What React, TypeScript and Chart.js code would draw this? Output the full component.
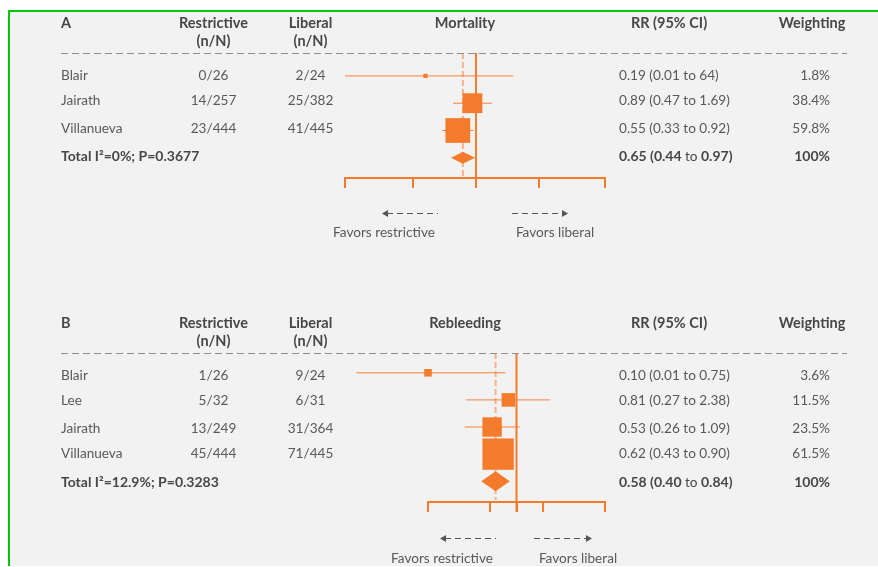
import React, { useEffect, useRef } from 'react';
import { Chart, registerables } from 'chart.js';

Chart.register(...registerables);

// ---------- Panel A: Mortality ----------
const studiesA = ['Blair', 'Jairath', 'Villanueva'];
const restrictiveA = ['0/26', '14/257', '23/444'];
const liberalA = ['2/24', '25/382', '41/445'];
const rrA = [0.19, 0.89, 0.55];
const ciLowA = [0.01, 0.47, 0.33];
const ciHighA = [3.4, 1.69, 0.92]; // upper ends as drawn in the figure
const rrLabelsA = ['0.19 (0.01 to 64)', '0.89 (0.47 to 1.69)', '0.55 (0.33 to 0.92)'];
const weightsA = [1.8, 38.4, 59.8];
const pooledA = [0.65, 0.44, 0.97]; // RR, low, high
const totalLabelA = 'Total I\u00B2=0%; P=0.3677';
const axisTicksA = [0.0134, 0.125, 1, 8, 70];

// ---------- Panel B: Rebleeding ----------
const studiesB = ['Blair', 'Lee', 'Jairath', 'Villanueva'];
const restrictiveB = ['1/26', '5/32', '13/249', '45/444'];
const liberalB = ['9/24', '6/31', '31/364', '71/445'];
const rrB = [0.1, 0.81, 0.53, 0.62];
const ciLowB = [0.0155, 0.27, 0.26, 0.43]; // Blair lower end as drawn
const ciHighB = [0.75, 2.38, 1.09, 0.9];
const rrLabelsB = ['0.10 (0.01 to 0.75)', '0.81 (0.27 to 2.38)', '0.53 (0.26 to 1.09)', '0.62 (0.43 to 0.90)'];
const weightsB = [3.6, 11.5, 23.5, 61.5];
const pooledB = [0.58, 0.4, 0.84];
const totalLabelB = 'Total I\u00B2=12.9%; P=0.3283';
const axisTicksB = [0.1, 0.5, 1, 2, 10];

// ---------- styling / layout ----------
const ORANGE = '#F47B2B';
const CI_COLOR = '#F4823A';
const POOL_COLOR = '#F8B28A';
const TEXT = '#595959';
const HEAD = '#474747';
const FONT = 'Lato, "Open Sans", sans-serif';
const SIZE_BODY = 13.6;
const SIZE_TOTAL = 14;
const SIZE_HEAD = 14.5;
const TEXT_DY = 1.5;
const CANVAS_W = 868;
const OFFSET_X = 10;

const layoutA = {
  canvasTop: 12, height: 278,
  areaLeft: 345, areaRight: 605, areaTop: 53, areaBottom: 178,
  rowY0: 75.9, rowStep: 27.3,
  headY1: 22, headY2: 40, sepY: 53,
  textY: [74, 99, 127, 155],
  arrowY: 213, favorsY: 231,
  leftArrow: [382, 438], rightArrow: [512, 568], leftTextX: 384, rightTextX: 555,
  sizeK: 3.2, diamondH: 12, clipCI: true,
};
const layoutB = {
  canvasTop: 290, height: 276,
  areaLeft: 428, areaRight: 605, areaTop: 353, areaBottom: 502,
  rowY0: 372.8, rowStep: 27.1,
  headY1: 322, headY2: 340, sepY: 353,
  textY: [374, 399, 427, 452, 481],
  arrowY: 538, favorsY: 557,
  leftArrow: [440, 496], rightArrow: [534, 592], leftTextX: 442, rightTextX: 578,
  sizeK: 4.0, diamondH: 20, clipCI: false,
};

const panels = [
  { letter: 'A', outcome: 'Mortality', studies: studiesA, restrictive: restrictiveA, liberal: liberalA,
    rr: rrA, low: ciLowA, high: ciHighA, rrLabels: rrLabelsA, weights: weightsA, pooled: pooledA,
    totalLabel: totalLabelA, ticks: axisTicksA, L: layoutA },
  { letter: 'B', outcome: 'Rebleeding', studies: studiesB, restrictive: restrictiveB, liberal: liberalB,
    rr: rrB, low: ciLowB, high: ciHighB, rrLabels: rrLabelsB, weights: weightsB, pooled: pooledB,
    totalLabel: totalLabelB, ticks: axisTicksB, L: layoutB },
];

const fmt = (v: number) => v.toFixed(2);

function makePlugin(p: any) {
  const L = p.L;
  const X = (px: number) => px - OFFSET_X;
  const Y = (py: number) => py - L.canvasTop;
  const text = (ctx: CanvasRenderingContext2D, s: string, x: number, y: number, align: CanvasTextAlign, bold: boolean, color: string, size: number) => {
    ctx.font = `${bold ? 'bold ' : ''}${size}px ${FONT}`;
    ctx.fillStyle = color;
    ctx.textAlign = align;
    ctx.textBaseline = 'middle';
    ctx.fillText(s, X(x), Y(y) + TEXT_DY);
  };
  return {
    id: 'forest' + p.letter,
    beforeDatasetsDraw(chart: any) {
      const ctx = chart.ctx;
      const xs = chart.scales.x;
      const a = chart.chartArea;
      ctx.save();
      const xp = xs.getPixelForValue(p.pooled[0]);
      ctx.strokeStyle = POOL_COLOR;
      ctx.lineWidth = 2;
      ctx.setLineDash([6, 3]);
      ctx.beginPath();
      ctx.moveTo(xp, a.top);
      ctx.lineTo(xp, a.bottom - 2);
      ctx.stroke();
      ctx.setLineDash([]);
      ctx.strokeStyle = ORANGE;
      const x1 = xs.getPixelForValue(1);
      ctx.beginPath();
      ctx.moveTo(x1, a.top);
      ctx.lineTo(x1, a.bottom + 10);
      ctx.stroke();
      ctx.restore();
    },
    afterDatasetsDraw(chart: any) {
      const ctx = chart.ctx;
      const xs = chart.scales.x;
      const ys = chart.scales.y;
      const yc = ys.getPixelForValue(p.studies.length);
      const xl = xs.getPixelForValue(p.pooled[1]);
      const xm = xs.getPixelForValue(p.pooled[0]);
      const xr = xs.getPixelForValue(p.pooled[2]);
      const h = L.diamondH / 2;
      ctx.save();
      ctx.fillStyle = ORANGE;
      ctx.beginPath();
      ctx.moveTo(xl, yc);
      ctx.lineTo(xm, yc - h);
      ctx.lineTo(xr, yc);
      ctx.lineTo(xm, yc + h);
      ctx.closePath();
      ctx.fill();
      ctx.restore();
    },
    afterDraw(chart: any) {
      const ctx: CanvasRenderingContext2D = chart.ctx;
      ctx.save();
      // headers
      text(ctx, p.letter, 61, L.headY1, 'left', true, HEAD, SIZE_HEAD);
      text(ctx, 'Restrictive', 213.5, L.headY1, 'center', true, HEAD, SIZE_HEAD);
      text(ctx, '(n/N)', 213.5, L.headY2, 'center', true, HEAD, SIZE_HEAD);
      text(ctx, 'Liberal', 310.5, L.headY1, 'center', true, HEAD, SIZE_HEAD);
      text(ctx, '(n/N)', 310.5, L.headY2, 'center', true, HEAD, SIZE_HEAD);
      text(ctx, p.outcome, 465, L.headY1, 'center', true, HEAD, SIZE_HEAD);
      text(ctx, 'RR (95% CI)', 669, L.headY1, 'center', true, HEAD, SIZE_HEAD);
      text(ctx, 'Weighting', 812, L.headY1, 'center', true, HEAD, SIZE_HEAD);
      // separator
      ctx.strokeStyle = '#8E8E8E';
      ctx.lineWidth = 1;
      ctx.setLineDash([7, 4]);
      ctx.beginPath();
      ctx.moveTo(X(61), Y(L.sepY) + 0.5);
      ctx.lineTo(X(847), Y(L.sepY) + 0.5);
      ctx.stroke();
      ctx.setLineDash([]);
      // rows
      p.studies.forEach((s: string, i: number) => {
        const y = L.textY[i];
        text(ctx, s, 61, y, 'left', false, TEXT, SIZE_BODY);
        text(ctx, p.restrictive[i], 213.5, y, 'center', false, TEXT, SIZE_BODY);
        text(ctx, p.liberal[i], 310.5, y, 'center', false, TEXT, SIZE_BODY);
        text(ctx, p.rrLabels[i], 619, y, 'left', false, TEXT, SIZE_BODY);
        text(ctx, `${p.weights[i]}%`, 830, y, 'right', false, TEXT, SIZE_BODY);
      });
      // total row
      const ty = L.textY[p.studies.length];
      text(ctx, p.totalLabel, 61, ty, 'left', true, HEAD, SIZE_TOTAL);
      const segs: [string, boolean][] = [
        [`${fmt(p.pooled[0])} (${fmt(p.pooled[1])} `, true],
        ['to', false],
        [` ${fmt(p.pooled[2])})`, true],
      ];
      let cx = 619;
      segs.forEach(([s, b]) => {
        text(ctx, s, cx, ty, 'left', b, HEAD, b ? SIZE_TOTAL : SIZE_BODY);
        cx += ctx.measureText(s).width;
      });
      text(ctx, '100%', 830, ty, 'right', true, HEAD, SIZE_TOTAL);
      // favours arrows
      ctx.strokeStyle = '#555555';
      ctx.fillStyle = '#555555';
      ctx.lineWidth = 1;
      const ay = Y(L.arrowY) + 0.5;
      ctx.setLineDash([6, 4]);
      ctx.beginPath();
      ctx.moveTo(X(L.leftArrow[0]) + 5, ay);
      ctx.lineTo(X(L.leftArrow[1]), ay);
      ctx.moveTo(X(L.rightArrow[0]), ay);
      ctx.lineTo(X(L.rightArrow[1]) - 5, ay);
      ctx.stroke();
      ctx.setLineDash([]);
      ctx.beginPath();
      ctx.moveTo(X(L.leftArrow[0]), ay);
      ctx.lineTo(X(L.leftArrow[0]) + 6, ay - 3.5);
      ctx.lineTo(X(L.leftArrow[0]) + 6, ay + 3.5);
      ctx.closePath();
      ctx.fill();
      ctx.beginPath();
      ctx.moveTo(X(L.rightArrow[1]), ay);
      ctx.lineTo(X(L.rightArrow[1]) - 6, ay - 3.5);
      ctx.lineTo(X(L.rightArrow[1]) - 6, ay + 3.5);
      ctx.closePath();
      ctx.fill();
      text(ctx, 'Favors restrictive', L.leftTextX, L.favorsY, 'center', false, TEXT, SIZE_BODY);
      text(ctx, 'Favors liberal', L.rightTextX, L.favorsY, 'center', false, TEXT, SIZE_BODY);
      ctx.restore();
    },
  };
}

function buildConfig(p: any): any {
  const L = p.L;
  const areaH = L.areaBottom - L.areaTop;
  const yMin = -(L.rowY0 - L.areaTop) / L.rowStep;
  const yMax = yMin + areaH / L.rowStep;
  const ciSets = p.rr.map((_: number, i: number) => ({
    data: [{ x: p.low[i], y: i }, { x: p.high[i], y: i }],
    showLine: true,
    borderColor: CI_COLOR,
    borderWidth: 1,
    pointRadius: 0,
    clip: L.clipCI ? { left: 0, right: false, top: false, bottom: false } : false,
    order: 2,
  }));
  const squares = {
    data: p.rr.map((v: number, i: number) => ({ x: v, y: i })),
    pointStyle: 'rect',
    pointRadius: p.weights.map((w: number) => (L.sizeK * Math.sqrt(w)) / Math.SQRT2),
    backgroundColor: ORANGE,
    borderWidth: 0,
    clip: false,
    order: 0,
  };
  return {
    type: 'scatter',
    data: { datasets: [squares, ...ciSets] },
    options: {
      responsive: false,
      animation: false,
      events: [],
      layout: {
        padding: {
          left: L.areaLeft - OFFSET_X,
          right: CANVAS_W - (L.areaRight - OFFSET_X),
          top: L.areaTop - L.canvasTop,
          bottom: L.height - (L.areaBottom - L.canvasTop) - 10,
        },
      },
      plugins: { legend: { display: false }, tooltip: { enabled: false } },
      scales: {
        x: {
          type: 'logarithmic',
          position: 'bottom',
          min: p.ticks[0],
          max: p.ticks[p.ticks.length - 1],
          afterBuildTicks: (s: any) => {
            s.ticks = p.ticks.map((v: number) => ({ value: v }));
          },
          ticks: { display: false },
          grid: { drawOnChartArea: false, drawTicks: true, tickLength: 10, color: ORANGE, lineWidth: 2 },
          border: { display: true, color: ORANGE, width: 2 },
        },
        y: { type: 'linear', reverse: true, display: false, min: yMin, max: yMax },
      },
    },
    plugins: [makePlugin(p)],
  };
}

function Panel({ p }: { p: any }) {
  const ref = useRef<HTMLCanvasElement>(null);
  useEffect(() => {
    if (!ref.current) return;
    const chart = new Chart(ref.current, buildConfig(p));
    return () => chart.destroy();
  }, [p]);
  return (
    <canvas
      ref={ref}
      width={CANVAS_W}
      height={p.L.height}
      style={{ display: 'block', width: CANVAS_W, height: p.L.height }}
    />
  );
}

export default function App() {
  return (
    <div
      style={{
        position: 'fixed',
        left: 8,
        top: 10,
        width: 870,
        height: 556,
        boxSizing: 'border-box',
        borderTop: '2px solid #00C800',
        borderLeft: '2px solid #00C800',
        background: '#F2F2F2',
        overflow: 'hidden',
      }}
    >
      {panels.map((p) => (
        <Panel key={p.letter} p={p} />
      ))}
    </div>
  );
}
